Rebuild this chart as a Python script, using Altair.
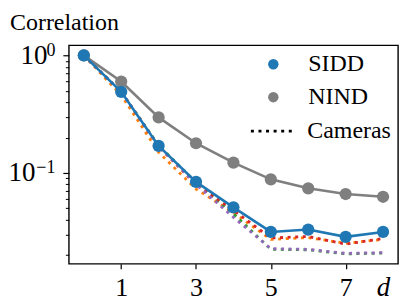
import altair as alt
import pandas as pd

# ---------------- data ----------------
x_vals = [0, 1, 2, 3, 4, 5, 6, 7, 8]
sidd = [1.0, 0.49, 0.170, 0.084, 0.051, 0.0315, 0.0330, 0.0286, 0.0315]
nind = [1.0, 0.60, 0.297, 0.179, 0.1225, 0.0883, 0.0740, 0.0662, 0.0627]
cam_names = ["cam1", "cam2", "cam3", "cam4"]
cam_orange = [1.0, 0.46, 0.150, 0.073, 0.046, 0.0272, 0.0282, 0.0252, 0.0272]
cam_green = [1.0, 0.49, 0.172, 0.083, 0.045, 0.0224, 0.0222, 0.0205, 0.0208]
cam_red = [1.0, 0.49, 0.168, 0.080, 0.048, 0.0280, 0.0288, 0.0248, 0.0277]
cam_purple = [1.0, 0.49, 0.170, 0.080, 0.042, 0.0227, 0.0224, 0.0207, 0.0210]
cam_colors = ["#ff7f0e", "#2ca02c", "#d62728", "#9467bd"]

legend_names = ["SIDD", "NIND"]
legend_colors = ["#1f77b4", "#7f7f7f"]
cam_label = "Cameras"
y_title = ["Correlation"]

x_ticks = [1, 3, 5, 7]
y_major = [0.1, 1.0]
y_minor = [0.02, 0.03, 0.04, 0.05, 0.06, 0.07, 0.08, 0.09,
           0.2, 0.3, 0.4, 0.5, 0.6, 0.7, 0.8, 0.9]

# ---------------- tables ----------------
sidd_df = pd.DataFrame({"d": x_vals, "corr": sidd, "dataset": "SIDD"})
nind_df = pd.DataFrame({"d": x_vals, "corr": nind, "dataset": "NIND"})
cam_rows = []
for i, (name, series) in enumerate(zip(cam_names, [cam_orange, cam_green, cam_red, cam_purple])):
    for x, v in zip(x_vals, series):
        cam_rows.append({"d": x, "corr": v, "camera": name, "group": cam_label, "o": i})
cam_df = pd.DataFrame(cam_rows)
title_df = pd.DataFrame({"t": y_title})

FONT = "Liberation Serif"
BLUE, GRAY = legend_colors

x_scale = alt.Scale(domain=[-0.4, 8.4], nice=False, zero=False)
y_scale = alt.Scale(type="log", domain=[0.0169, 1.22], nice=False)
X_NOAXIS = alt.X("d:Q", scale=x_scale, axis=None)


def label_axis(values, expr, pad, size=27, baseline="middle"):
    return alt.Axis(orient="left", values=values, labelExpr=expr, labelFont=FONT,
                    labelFontSize=size, labelColor="black", labelBaseline=baseline,
                    ticks=False, labelPadding=pad, domain=False, grid=False, title=None)


# layer 1: camera dotted lines, x axis, major y ticks
cams = alt.Chart(cam_df).mark_line(strokeWidth=2.8, strokeCap="butt").encode(
    x=alt.X("d:Q", scale=x_scale, axis=alt.Axis(
        values=x_ticks, format="d", labelFont=FONT, labelFontSize=26,
        labelColor="black", labelBaseline="alphabetic", tickSize=5, tickWidth=1.2,
        tickColor="black", labelPadding=27, domain=False, grid=False,
        title="d", titleFont=FONT, titleFontSize=27, titleFontStyle="italic",
        titleFontWeight="normal", titleColor="black", titleX=315, titleY=32,
        titleAlign="center", titleBaseline="alphabetic", titleAngle=0)),
    y=alt.Y("corr:Q", scale=y_scale, axis=alt.Axis(
        orient="left", values=y_major, labels=False,
        tickSize=6, tickWidth=1.2, tickColor="black", domain=False, grid=False,
        title=None)),
    color=alt.Color("camera:N", scale=alt.Scale(domain=cam_names, range=cam_colors), legend=None),
    strokeDash=alt.StrokeDash("group:N", scale=alt.Scale(domain=[cam_label], range=[[3, 4.6]]),
                              legend=alt.Legend(title=None, orient="none", legendX=181, legendY=63,
                                                symbolType="stroke", symbolSize=1849,
                                                symbolStrokeColor="black", symbolStrokeWidth=2.8,
                                                labelFont=FONT, labelFontSize=24,
                                                labelColor="black", labelOffset=12, padding=0)),
    order="o:Q",
)

# layer 2: NIND line + minor y ticks
nind_line = alt.Chart(nind_df).mark_line(strokeWidth=2.6, color=GRAY).encode(
    x=X_NOAXIS,
    y=alt.Y("corr:Q", scale=y_scale, axis=alt.Axis(
        orient="left", values=y_minor, labels=False, tickSize=3.5,
        tickWidth=1, tickColor="black", domain=False, grid=False, title=None)),
)

# layer 3: SIDD line + "10" for 10^0
sidd_line = alt.Chart(sidd_df).mark_line(strokeWidth=2.6, color=BLUE).encode(
    x=X_NOAXIS,
    y=alt.Y("corr:Q", scale=y_scale, axis=label_axis([1.0], "'10'", 22)),
)

# layer 4: NIND markers + "10" for 10^-1
nind_pts = alt.Chart(nind_df).mark_point(filled=True, size=150, opacity=1, color=GRAY).encode(
    x=X_NOAXIS,
    y=alt.Y("corr:Q", scale=y_scale, axis=label_axis([0.1], "'10'", 34)),
)

# layer 5: SIDD markers + exponents + legend
sidd_pts = alt.Chart(sidd_df).mark_point(filled=True, size=150, opacity=1).encode(
    x=X_NOAXIS,
    y=alt.Y("corr:Q", scale=y_scale,
            axis=label_axis(y_major, "datum.value >= 0.5 ? '0' : '\u22121'", 14,
                            size=18, baseline="alphabetic")),
    color=alt.Color("dataset:N", scale=alt.Scale(domain=legend_names, range=legend_colors),
                    legend=alt.Legend(title=None, orient="none", legendX=193, legendY=7,
                                      symbolType="circle", symbolSize=110, symbolStrokeWidth=0,
                                      labelFont=FONT, labelFontSize=24, labelColor="black",
                                      labelOffset=23, rowPadding=9, padding=0)),
)

# layer 6: the y-axis title written above the plot
title_txt = alt.Chart(title_df).mark_text(
    align="left", baseline="alphabetic", font=FONT, fontSize=24, color="black"
).encode(
    text="t:N", x=alt.value(-59), y=alt.value(-15)
)

chart = alt.layer(cams, nind_line, sidd_line, nind_pts, sidd_pts, title_txt).resolve_scale(
    color="independent"
).resolve_axis(
    y="independent", x="independent"
).properties(
    width=330, height=219,
    autosize=alt.AutoSizeParams(type="none"),
    padding={"left": 61, "top": 37, "right": 1, "bottom": 42},
).configure(
    font=FONT
).configure_view(
    stroke="black", strokeWidth=1.4
).configure_legend(
    labelFont=FONT, labelLimit=200,
).configure_axis(
    titleFont=FONT, labelFont=FONT,
)

chart.save("out.html", embed_options={"renderer": "svg", "actions": False})
